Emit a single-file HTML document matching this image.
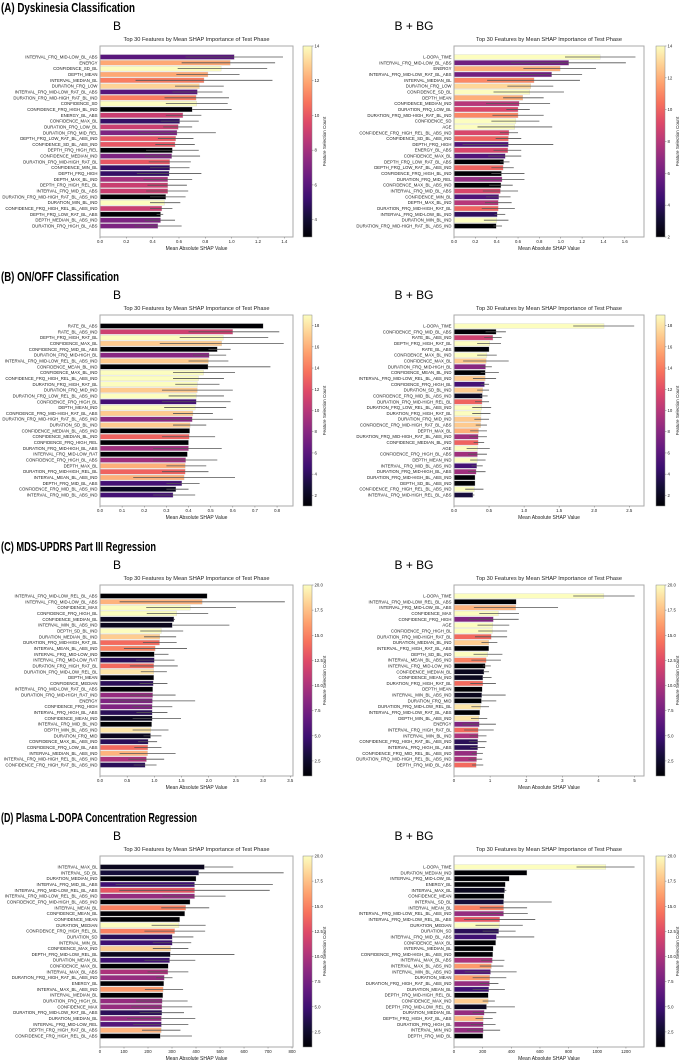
<!DOCTYPE html>
<html><head><meta charset="utf-8">
<style>
html,body{margin:0;padding:0;background:#fff;}
svg{display:block;font-family:"Liberation Sans","DejaVu Sans",sans-serif;}
</style></head>
<body>
<svg id="fig" width="685" height="1061" viewBox="0 0 685 1061" xmlns="http://www.w3.org/2000/svg">
<defs>
<linearGradient id="magma" x1="0" y1="1" x2="0" y2="0">
<stop offset="0" stop-color="#000004"/><stop offset="0.1" stop-color="#140e36"/><stop offset="0.2" stop-color="#3b0f70"/><stop offset="0.3" stop-color="#641a80"/><stop offset="0.4" stop-color="#8c2981"/><stop offset="0.5" stop-color="#b73779"/><stop offset="0.6" stop-color="#de4968"/><stop offset="0.7" stop-color="#f7705c"/><stop offset="0.8" stop-color="#fe9f6d"/><stop offset="0.9" stop-color="#fecf92"/><stop offset="1" stop-color="#fcfdbf"/>
</linearGradient>
</defs>
</svg>
<script>
// ---- (A) Dyskinesia, B ----
const namesAL=["INTERVAL_FRQ_MID-LOW_BL_ABS","ENERGY","CONFIDENCE_SD_BL","DEPTH_MEAN","INTERVAL_MEDIAN_BL","DURATION_FRQ_LOW","INTERVAL_FRQ_MID-LOW_RAT_BL_ABS","DURATION_FRQ_MID-HIGH_RAT_BL_IND","CONFIDENCE_SD","CONFIDENCE_FRQ_HIGH_BL_IND","ENERGY_BL_ABS","CONFIDENCE_MAX_BL","DURATION_FRQ_LOW_BL","DURATION_FRQ_MID_REL","DEPTH_FRQ_LOW_RAT_BL_ABS_IND","CONFIDENCE_SD_BL_ABS_IND","DEPTH_FRQ_HIGH_REL","CONFIDENCE_MEDIAN_IND","DURATION_FRQ_MID-HIGH_RAT_BL","CONFIDENCE_MIN_BL","DEPTH_FRQ_HIGH","DEPTH_MAX_BL_IND","DEPTH_FRQ_HIGH_REL_BL","INTERVAL_FRQ_MID_BL_ABS","DURATION_FRQ_MID-HIGH_RAT_BL_ABS_IND","DURATION_MIN_BL_IND","CONFIDENCE_FRQ_HIGH_REL_BL_ABS_IND","DEPTH_FRQ_LOW_RAT_BL_ABS","DEPTH_MEDIAN_BL_ABS_IND","DURATION_FRQ_HIGH_BL_ABS"];
const valsAL=[1.02,0.99,0.92,0.82,0.79,0.755,0.74,0.73,0.735,0.70,0.63,0.605,0.595,0.585,0.575,0.57,0.55,0.545,0.53,0.53,0.525,0.515,0.515,0.515,0.50,0.49,0.47,0.46,0.46,0.44];
const loAL=[0.65,0.62,0.59,0.58,0.27,0.57,0.55,0.49,0.5,0.7,0.5,0.46,0.48,0.29,0.44,0.42,0.35,0.34,0.37,0.38,0.28,0.33,0.36,0.35,0.38,0.38,0.38,0.43,0.34,0.26];
const hiAL=[1.39,1.33,1.27,1.06,1.31,0.94,0.93,0.98,0.97,1.0,0.77,0.75,0.7,0.88,0.71,0.72,0.75,0.76,0.69,0.68,0.77,0.7,0.66,0.67,0.65,0.61,0.55,0.48,0.57,0.62];
const cntAL=[6,12,14,12,11,13,6,11,14,3,9,5,9,7,10,10,3,7,10,5,5,8,9,9,3,14,9,3,7,7];
// ---- (A) Dyskinesia, B + BG ----
const namesAR=["L-DOPA_TIME","INTERVAL_FRQ_MID-LOW_BL_ABS","ENERGY","INTERVAL_FRQ_MID-LOW_RAT_BL_ABS","INTERVAL_MEDIAN_BL","DURATION_FRQ_LOW","CONFIDENCE_SD_BL","DEPTH_MEAN","CONFIDENCE_MEDIAN_IND","DURATION_FRQ_LOW_BL","DURATION_FRQ_MID-HIGH_RAT_BL_IND","CONFIDENCE_SD","AGE","CONFIDENCE_FRQ_HIGH_REL_BL_ABS_IND","CONFIDENCE_SD_BL_ABS_IND","DEPTH_FRQ_HIGH","ENERGY_BL_ABS","CONFIDENCE_MAX_BL","DEPTH_FRQ_LOW_RAT_BL_ABS","DEPTH_FRQ_LOW_RAT_BL_ABS_IND","CONFIDENCE_FRQ_HIGH_BL_IND","DURATION_FRQ_MID_REL","CONFIDENCE_MAX_BL_ABS_IND","INTERVAL_FRQ_MID_BL_ABS","CONFIDENCE_MIN_BL","DEPTH_MAX_BL_IND","DURATION_FRQ_MID-HIGH_RAT_BL","INTERVAL_FRQ_MID-LOW_BL_IND","DURATION_MIN_BL_IND","DURATION_FRQ_MID-HIGH_RAT_BL_ABS_IND"];
const valsAR=[1.37,1.075,0.995,0.915,0.75,0.72,0.71,0.645,0.61,0.6,0.6,0.58,0.57,0.515,0.51,0.51,0.505,0.48,0.465,0.46,0.445,0.45,0.44,0.435,0.42,0.415,0.415,0.405,0.40,0.395];
const loAR=[1.04,0.53,0.65,0.62,0.31,0.5,0.37,0.46,0.3,0.49,0.36,0.35,0.22,0.43,0.39,0.08,0.37,0.32,0.43,0.35,0.35,0.23,0.33,0.27,0.3,0.29,0.26,0.38,0.28,0.37];
const hiAR=[1.70,1.61,1.33,1.2,1.18,0.93,1.03,0.84,0.9,0.71,0.84,0.8,0.92,0.6,0.63,0.93,0.63,0.63,0.52,0.56,0.66,0.66,0.55,0.6,0.53,0.54,0.57,0.48,0.51,0.45];
const cntAR=[14,6,12,6,11,13,14,12,8,9,11,14,14,9,10,5,9,5,2,10,2,7,2,9,5,8,10,4,14,2];
// ---- (B) ON/OFF, B ----
const namesBL=["RATE_BL_ABS","RATE_BL_ABS_IND","DEPTH_FRQ_HIGH_RAT_BL","CONFIDENCE_MAX_BL","CONFIDENCE_FRQ_MID_BL_ABS","DURATION_FRQ_MID-HIGH_BL","INTERVAL_FRQ_MID-LOW_REL_BL_ABS_IND","CONFIDENCE_MEAN_BL_IND","CONFIDENCE_MAX_BL_IND","CONFIDENCE_FRQ_HIGH_REL_BL_ABS_IND","DURATION_FRQ_HIGH_RAT_BL","DURATION_FRQ_MID_IND","DURATION_FRQ_LOW_REL_BL_ABS_IND","CONFIDENCE_FRQ_HIGH_BL","DEPTH_MEAN_IND","CONFIDENCE_FRQ_MID-HIGH_RAT_BL_ABS","DURATION_FRQ_MID-HIGH_RAT_BL_ABS_IND","DURATION_SD_BL_IND","CONFIDENCE_MEDIAN_BL_ABS_IND","CONFIDENCE_MEDIAN_BL_IND","CONFIDENCE_FRQ_HIGH_REL","DURATION_FRQ_MID-HIGH_BL_ABS","INTERVAL_FRQ_MID-LOW_RAT","CONFIDENCE_FRQ_HIGH_BL_ABS","DEPTH_MAX_BL","DURATION_FRQ_MID-HIGH_REL_BL","INTERVAL_MEAN_BL_ABS_IND","DEPTH_FRQ_MID_BL_ABS","CONFIDENCE_FRQ_MID_BL_ABS_IND","INTERVAL_FRQ_MID_BL_ABS_IND"];
const valsBL=[0.737,0.60,0.557,0.55,0.53,0.493,0.49,0.488,0.468,0.445,0.44,0.44,0.435,0.435,0.43,0.42,0.417,0.407,0.405,0.403,0.40,0.40,0.395,0.387,0.385,0.385,0.38,0.37,0.343,0.33];
const loBL=[0.737,0.4,0.36,0.27,0.49,0.42,0.4,0.488,0.33,0.33,0.34,0.28,0.31,0.28,0.29,0.33,0.23,0.33,0.405,0.28,0.40,0.24,0.395,0.24,0.3,0.28,0.15,0.3,0.3,0.24];
const hiBL=[0.737,0.81,0.76,0.83,0.59,0.57,0.58,0.77,0.61,0.56,0.54,0.6,0.56,0.59,0.57,0.51,0.6,0.48,0.405,0.52,0.40,0.55,0.395,0.53,0.48,0.49,0.61,0.45,0.4,0.43];
const cntBL=[1,11,19,17,1,8,17,1,19,19,19,17,19,5,19,17,8,17,1,13,1,9,1,9,16,13,16,5,2,5];
// ---- (B) ON/OFF, B + BG ----
const namesBR=["L-DOPA_TIME","CONFIDENCE_FRQ_MID_BL_ABS","RATE_BL_ABS_IND","DEPTH_FRQ_HIGH_RAT_BL","RATE_BL_ABS","CONFIDENCE_MAX_BL_IND","CONFIDENCE_MAX_BL","DURATION_FRQ_MID-HIGH_BL","CONFIDENCE_MEAN_BL_IND","INTERVAL_FRQ_MID-LOW_REL_BL_ABS_IND","CONFIDENCE_FRQ_HIGH_BL","DURATION_SD_BL_IND","CONFIDENCE_FRQ_MID_BL_ABS_IND","DURATION_FRQ_MID-HIGH_REL_BL","DURATION_FRQ_LOW_REL_BL_ABS_IND","DURATION_FRQ_HIGH_RAT_BL","DURATION_FRQ_MID_IND","CONFIDENCE_FRQ_MID-HIGH_RAT_BL_ABS","DEPTH_MAX_BL","DURATION_FRQ_MID-HIGH_RAT_BL_ABS_IND","CONFIDENCE_MEDIAN_BL_IND","AGE","CONFIDENCE_FRQ_HIGH_BL_ABS","DEPTH_MEAN_IND","INTERVAL_FRQ_MID_BL_ABS_IND","DURATION_FRQ_MID-HIGH_BL_ABS","DURATION_FRQ_MID-HIGH_BL_ABS_IND","DEPTH_SD_BL_ABS_IND","CONFIDENCE_FRQ_HIGH_REL_BL_ABS_IND","INTERVAL_FRQ_MID-HIGH_REL_BL_ABS"];
const valsBR=[2.14,0.6,0.555,0.51,0.5,0.47,0.46,0.45,0.447,0.445,0.435,0.41,0.405,0.40,0.395,0.385,0.385,0.38,0.35,0.345,0.345,0.335,0.335,0.33,0.325,0.315,0.30,0.30,0.29,0.27];
const loBR=[1.7,0.45,0.43,0.33,0.5,0.33,0.13,0.37,0.38,0.27,0.38,0.33,0.37,0.3,0.26,0.26,0.29,0.31,0.23,0.22,0.28,0.18,0.2,0.23,0.25,0.2,0.3,0.3,0.16,0.26];
const hiBR=[2.57,0.74,0.68,0.67,0.5,0.61,0.78,0.54,0.64,0.6,0.5,0.5,0.48,0.5,0.53,0.52,0.5,0.47,0.47,0.47,0.43,0.51,0.47,0.45,0.41,0.45,0.3,0.3,0.42,0.29];
const cntBR=[19,1,11,19,1,19,17,8,1,17,5,17,2,13,19,19,17,17,16,9,13,19,9,19,5,9,1,1,19,3];
// ---- (C) MDS-UPDRS, B ----
const namesCL=["INTERVAL_FRQ_MID-LOW_REL_BL_ABS","INTERVAL_FRQ_MID-LOW_BL_ABS","CONFIDENCE_MAX","CONFIDENCE_FRQ_HIGH_BL","CONFIDENCE_MEDIAN_BL","INTERVAL_MIN_BL_ABS_IND","DEPTH_SD_BL_IND","DURATION_MEDIAN_BL_IND","DURATION_FRQ_MID-HIGH_RAT_BL","INTERVAL_MEAN_BL_ABS_IND","INTERVAL_FRQ_MID-LOW_IND","INTERVAL_FRQ_MID-LOW_RAT","DURATION_FRQ_HIGH_RAT_BL","DURATION_FRQ_MID-LOW_REL_BL","DEPTH_MEAN","CONFIDENCE_MEDIAN","INTERVAL_FRQ_MID-LOW_RAT_BL_ABS","DURATION_FRQ_MID-HIGH_RAT_IND","ENERGY","CONFIDENCE_FRQ_HIGH","INTERVAL_FRQ_HIGH_BL_ABS","CONFIDENCE_MEAN_IND","INTERVAL_FRQ_MID_BL_IND","DEPTH_MIN_BL_ABS_IND","DURATION_FRQ_MID","CONFIDENCE_MAX_BL_ABS_IND","CONFIDENCE_FRQ_LOW_BL_ABS","INTERVAL_MEDIAN_BL_ABS_IND","INTERVAL_FRQ_MID-HIGH_REL_BL_ABS_IND","CONFIDENCE_FRQ_HIGH_RAT_BL_ABS_IND"];
const valsCL=[1.97,1.88,1.66,1.41,1.36,1.33,1.13,1.10,1.095,1.015,1.0,1.0,0.99,0.99,0.99,0.98,0.97,0.97,0.965,0.96,0.96,0.96,0.95,0.935,0.93,0.885,0.88,0.875,0.855,0.83];
const loCL=[1.97,0.36,0.85,0.86,1.35,1.33,0.74,0.81,0.79,0.44,1.0,0.66,0.55,0.75,0.99,0.73,0.97,0.55,0.17,0.59,0.67,0.6,0.95,0.6,0.8,0.7,0.63,0.36,0.52,0.62];
const hiCL=[1.97,3.4,2.5,1.99,1.38,2.38,1.53,1.4,1.41,1.6,1.26,1.37,1.43,1.23,0.99,1.24,0.97,1.39,1.75,1.33,1.24,1.49,0.95,1.26,1.13,1.05,1.13,1.39,1.18,1.04];
const cntCL=[1,17,20,20,2,2,20,18,14,15,1,4,14,19,1,4,1,9,8,8,4,2,1,19,2,4,14,17,10,4];
// ---- (C) MDS-UPDRS, B + BG ----
const namesCR=["L-DOPA_TIME","INTERVAL_FRQ_MID-LOW_REL_BL_ABS","INTERVAL_FRQ_MID-LOW_BL_ABS","CONFIDENCE_MAX","CONFIDENCE_FRQ_HIGH","AGE","CONFIDENCE_FRQ_HIGH_BL","DURATION_FRQ_MID-HIGH_RAT_BL","DURATION_MEDIAN_BL_IND","INTERVAL_FRQ_HIGH_RAT_BL_ABS","DEPTH_SD_BL_IND","INTERVAL_MEAN_BL_ABS_IND","INTERVAL_FRQ_MID-LOW_IND","CONFIDENCE_MEDIAN_BL","CONFIDENCE_MEAN_IND","DURATION_FRQ_HIGH_RAT_BL","DEPTH_MEAN","INTERVAL_MIN_BL_ABS_IND","DURATION_FRQ_MID","DURATION_FRQ_MID-LOW_REL_BL","INTERVAL_FRQ_MID-LOW_RAT_BL_ABS","DEPTH_MIN_BL_ABS_IND","ENERGY","INTERVAL_FRQ_HIGH_RAT_BL","INTERVAL_MIN_BL_IND","CONFIDENCE_FRQ_HIGH_RAT_BL_ABS_IND","INTERVAL_FRQ_HIGH_BL_ABS","CONFIDENCE_FRQ_MID_REL_BL_ABS_IND","DURATION_FRQ_MID-HIGH_REL_BL_ABS_IND","DEPTH_FRQ_MID_BL_ABS"];
const valsCR=[4.15,1.72,1.71,1.23,1.09,1.075,1.065,1.03,0.965,0.965,0.93,0.89,0.865,0.83,0.8,0.8,0.78,0.77,0.76,0.735,0.715,0.69,0.70,0.67,0.67,0.66,0.655,0.635,0.625,0.615];
const loCR=[3.3,1.72,0.55,0.7,0.4,0.65,0.67,0.58,0.76,0.965,0.54,0.48,0.8,0.8,0.8,0.45,0.78,0.77,0.76,0.48,0.715,0.47,0.23,0.28,0.43,0.41,0.45,0.49,0.4,0.5];
const hiCR=[5.0,1.72,2.88,1.8,1.79,1.53,1.47,1.47,1.2,0.965,1.34,1.3,1.02,0.97,1.04,1.16,0.78,1.43,1.17,0.97,0.715,0.92,1.16,1.1,0.9,0.9,0.86,0.8,0.78,0.81];
const cntCR=[20,1,17,20,8,20,20,14,18,1,20,15,1,2,2,14,1,2,1,19,1,19,8,14,10,4,4,9,10,14];
// ---- (D) Plasma L-DOPA, B ----
const namesDL=["INTERVAL_MAX_BL","INTERVAL_SD_BL","DURATION_MEDIAN_IND","INTERVAL_FRQ_MID_BL_ABS","INTERVAL_FRQ_MID-LOW_REL_BL_ABS","INTERVAL_FRQ_MID-LOW_REL_BL_ABS_IND","CONFIDENCE_FRQ_MID-HIGH_BL_ABS_IND","INTERVAL_MEAN_BL","CONFIDENCE_MEAN_BL","CONFIDENCE_MEAN","DURATION_MEDIAN","CONFIDENCE_FRQ_HIGH_REL_BL","DURATION_SD","INTERVAL_MIN_BL","CONFIDENCE_MAX_IND","DEPTH_FRQ_MID-LOW_REL_BL","DURATION_MEAN_BL","CONFIDENCE_MAX_BL","INTERVAL_MAX_BL_ABS","DURATION_FRQ_HIGH_RAT_BL_ABS_IND","ENERGY_BL","INTERVAL_MAX_BL_ABS_IND","INTERVAL_MEDIAN_BL","DURATION_FRQ_HIGH_BL","CONFIDENCE_MAX","DURATION_FRQ_MID-LOW_RAT_BL_ABS","DURATION_MEDIAN_BL","INTERVAL_FRQ_MID-LOW_REL","DEPTH_FRQ_HIGH_RAT_BL_ABS","CONFIDENCE_FRQ_HIGH_REL_BL_ABS"];
const valsDL=[435,411,400,394,394,394,375,357,353,332,329,311,301,301,294,293,290,284,283,268,266,263,262,259,258,258,256,256,255,251];
const loDL=[435,411,400,65,80,260,375,255,353,332,215,185,301,220,220,293,185,284,198,234,266,187,262,150,130,165,113,138,175,251];
const hiDL=[555,765,400,720,707,523,375,455,353,332,440,438,389,380,368,560,397,284,368,302,266,346,262,365,384,350,397,368,335,383];
const cntDL=[2,3,1,5,13,9,1,15,1,1,20,15,4,5,18,2,5,1,10,9,1,16,1,9,9,4,9,6,17,1];
// ---- (D) Plasma L-DOPA, B + BG ----
const namesDR=["L-DOPA_TIME","DURATION_MEDIAN_IND","INTERVAL_FRQ_MID-LOW_BL","ENERGY_BL","INTERVAL_MAX_BL","CONFIDENCE_MEAN","INTERVAL_SD_BL","INTERVAL_MEAN_BL","INTERVAL_FRQ_MID-LOW_REL_BL_ABS_IND","INTERVAL_FRQ_MID-LOW_REL_BL_ABS","DURATION_MEDIAN","DURATION_SD","INTERVAL_FRQ_MID_BL_ABS","CONFIDENCE_MAX_BL","INTERVAL_MEDIAN_BL","CONFIDENCE_FRQ_MID-HIGH_BL_ABS_IND","INTERVAL_MAX_BL_ABS","INTERVAL_MAX_BL_ABS_IND","INTERVAL_MIN_BL_ABS_IND","DURATION_MEAN","DURATION_FRQ_HIGH_RAT_BL_ABS_IND","DURATION_MEAN_BL","DEPTH_FRQ_MID-HIGH_REL_BL","CONFIDENCE_MAX_IND","DEPTH_FRQ_MID-LOW_REL_BL","DURATION_MEDIAN_BL","DEPTH_FRQ_HIGH_RAT_BL_ABS","DURATION_FRQ_HIGH_BL","INTERVAL_MIN_IND","DEPTH_FRQ_MID_BL"];
const valsDR=[1060,509,385,358,353,349,346,346,346,319,317,312,296,291,273,271,268,261,255,250,248,243,239,239,227,211,204,204,204,202];
const loDR=[855,509,385,358,353,349,346,180,180,70,150,200,296,291,273,271,190,180,75,130,180,130,239,200,227,130,150,115,90,202];
const hiDR=[1260,509,385,358,365,349,682,510,515,567,480,430,560,291,273,271,352,345,437,365,310,355,239,285,425,295,270,290,322,202];
const cntDR=[20,1,1,1,2,1,3,15,9,13,20,4,5,1,1,1,10,16,6,16,9,5,1,18,2,9,17,9,9,1];

const sections=[
 {off:0,title:"(A) Dyskinesia Classification",tw:134},
 {off:269,title:"(B) ON/OFF Classification",tw:118},
 {off:539,title:"(C) MDS-UPDRS Part III Regression",tw:155},
 {off:810,title:"(D) Plasma L-DOPA Concentration Regression",tw:196}
];
const charts=[
 {s:0,side:"L",names:namesAL,vals:valsAL,lo:loAL,hi:hiAL,cnt:cntAL,xmax:1.466,tick:0.2,ntick:8,dec:1,cmin:3,cmax:14,ct:[4,6,8,10,12,14],cdec:0},
 {s:0,side:"R",names:namesAR,vals:valsAR,lo:loAR,hi:hiAR,cnt:cntAR,xmax:1.78,tick:0.2,ntick:9,dec:1,cmin:2,cmax:14,ct:[2,4,6,8,10,12,14],cdec:0},
 {s:1,side:"L",names:namesBL,vals:valsBL,lo:loBL,hi:hiBL,cnt:cntBL,xmax:0.872,tick:0.1,ntick:9,dec:1,cmin:1,cmax:19,ct:[2,4,6,8,10,12,14,16,18],cdec:0},
 {s:1,side:"R",names:namesBR,vals:valsBR,lo:loBR,hi:hiBR,cnt:cntBR,xmax:2.71,tick:0.5,ntick:6,dec:1,cmin:1,cmax:19,ct:[2,4,6,8,10,12,14,16,18],cdec:0},
 {s:2,side:"L",names:namesCL,vals:valsCL,lo:loCL,hi:hiCL,cnt:cntCL,xmax:3.55,tick:0.5,ntick:8,dec:1,cmin:1,cmax:20,ct:[2.5,5,7.5,10,12.5,15,17.5,20],cdec:1},
 {s:2,side:"R",names:namesCR,vals:valsCR,lo:loCR,hi:hiCR,cnt:cntCR,xmax:5.26,tick:1,ntick:6,dec:0,cmin:1,cmax:20,ct:[2.5,5,7.5,10,12.5,15,17.5,20],cdec:1},
 {s:3,side:"L",names:namesDL,vals:valsDL,lo:loDL,hi:hiDL,cnt:cntDL,xmax:804,tick:100,ntick:9,dec:0,cmin:1,cmax:20,ct:[2.5,5,7.5,10,12.5,15,17.5,20],cdec:1},
 {s:3,side:"R",names:namesDR,vals:valsDR,lo:loDR,hi:hiDR,cnt:cntDR,xmax:1326,tick:200,ntick:7,dec:0,cmin:1,cmax:20,ct:[2.5,5,7.5,10,12.5,15,17.5,20],cdec:1}
];

const NS="http://www.w3.org/2000/svg";
const svg=document.getElementById('fig');
function el(tag,attrs,parent,txt){const e=document.createElementNS(NS,tag);for(const k in attrs)e.setAttribute(k,attrs[k]);if(txt!==undefined)e.textContent=txt;(parent||svg).appendChild(e);return e;}
const stops=[[0,0,0,4],[0.1,20,14,54],[0.2,59,15,112],[0.3,100,26,128],[0.4,140,41,129],[0.5,183,55,121],[0.6,222,73,104],[0.7,247,112,92],[0.8,254,159,109],[0.9,254,207,146],[1,252,253,191]];
function magma(t){t=Math.max(0,Math.min(1,t));for(let i=1;i<stops.length;i++){if(t<=stops[i][0]){const a=stops[i-1],b=stops[i],f=(t-a[0])/(b[0]-a[0]);return `rgb(${Math.round(a[1]+f*(b[1]-a[1]))},${Math.round(a[2]+f*(b[2]-a[2]))},${Math.round(a[3]+f*(b[3]-a[3]))})`;}}return "rgb(252,253,191)";}

sections.forEach(function(sec){
 const g=el('g',{});
 
 
 const t=el('text',{x:1,y:sec.off+12,'font-size':13,'font-weight':'bold',textLength:sec.tw,lengthAdjust:'spacingAndGlyphs',fill:'#000'},g,sec.title);
 
 
 const b=el('text',{x:117,y:sec.off+30,'font-size':12,'text-anchor':'middle',fill:'#000'},g,"B");
 
 
 const bg=el('text',{x:414,y:sec.off+30,'font-size':12,'text-anchor':'middle',fill:'#000'},g,"B + BG");
 
 
});

charts.forEach(function(c){
 const off=sections[c.s].off;
 const x0=c.side==="L"?100:454, x1=c.side==="L"?293:644;
 const y0=off+46, y1=off+237;
 const cbx=c.side==="L"?303:656;
 const g=el('g',{});
 
 
 const xs=v=>x0+(v/c.xmax)*(x1-x0);
 const n=c.names.length, sp=(y1-y0-22)/(n-1);
 const ys=i=>y0+11+i*sp;
 const tt=el('text',{x:(x0+x1)/2,y:off+41,'font-size':5,'text-anchor':'middle',fill:'#222',textLength:146,lengthAdjust:'spacingAndGlyphs'},g,"Top 30 Features by Mean SHAP Importance of Test Phase");
 
 
 for(let i=0;i<n;i++){
  const y=ys(i);
  const r=el('rect',{x:x0,y:y-sp*0.42,width:Math.max(0,xs(c.vals[i])-x0),height:sp*0.84,fill:magma((c.cnt[i]-c.cmin)/(c.cmax-c.cmin)),stroke:'#ccc','stroke-width':0.3},g);
  
  
  if(c.hi[i]>c.lo[i]){
   const ln=el('line',{x1:xs(c.lo[i]),x2:xs(c.hi[i]),y1:y,y2:y,stroke:'#555','stroke-width':0.8},g);
   
   
  }
  const lb=el('text',{x:x0-2.5,y:y+1.5,'font-size':4.3,'text-anchor':'end',fill:'#222'},g,c.names[i]);
  
  
 }
 const fr=el('rect',{x:x0,y:y0,width:x1-x0,height:y1-y0,fill:'none',stroke:'#aaa','stroke-width':1},g);
 
 
 for(let k=0;k<c.ntick;k++){
  const v=k*c.tick; const x=xs(v);
  el('line',{x1:x,x2:x,y1:y1,y2:y1+1.5,stroke:'#555','stroke-width':0.4},g);
  const tl=el('text',{x:x,y:y1+6,'font-size':4.3,'text-anchor':'middle',fill:'#222'},g,v.toFixed(c.dec));
  
  
 }
 const xl=el('text',{x:(x0+x1)/2,y:y1+13,'font-size':5,'text-anchor':'middle',fill:'#222'},g,"Mean Absolute SHAP Value");
 
 
 const cb=el('rect',{x:cbx,y:y0,width:9,height:y1-y0,fill:'url(#magma)',stroke:'#888','stroke-width':0.5},g);
 
 
 c.ct.forEach(function(v){
  const y=y1-(v-c.cmin)/(c.cmax-c.cmin)*(y1-y0);
  el('line',{x1:cbx+9,x2:cbx+10.5,y1:y,y2:y,stroke:'#555','stroke-width':0.4},g);
  const ct=el('text',{x:cbx+11.5,y:y+1.5,'font-size':4.3,fill:'#222'},g,v.toFixed(c.cdec));
  
  
 });
 const cx=cbx+23, cy=(y0+y1)/2;
 const cl=el('text',{x:cx,y:cy,'font-size':4.6,'text-anchor':'middle',fill:'#222',transform:`rotate(-90 ${cx} ${cy})`},g,"Feature Selection Count");
 
 
});
</script>
</body></html>
